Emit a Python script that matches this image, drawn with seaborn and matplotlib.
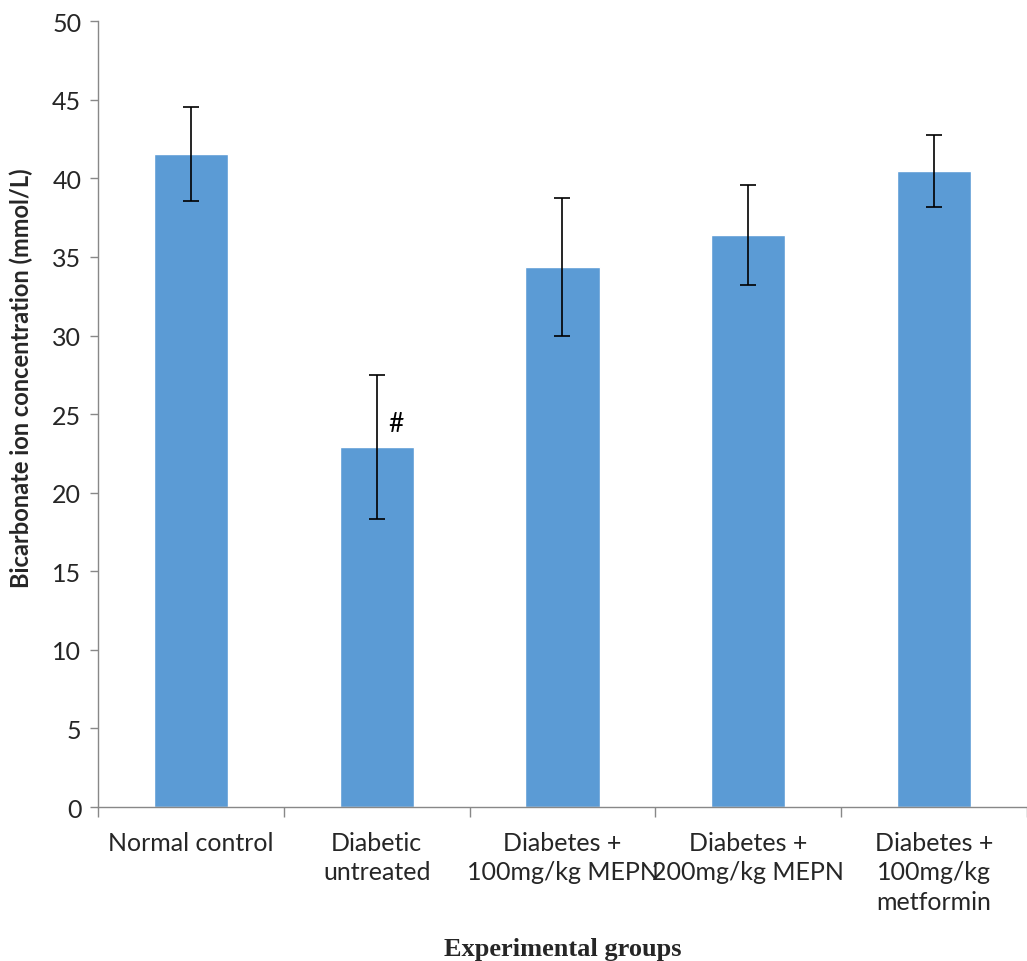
import seaborn as sns
import matplotlib.pyplot as plt
import pandas as pd

# values
groups = ["Normal control", "Diabetic\nuntreated", "Diabetes +\n100mg/kg MEPN",
          "Diabetes +\n200mg/kg MEPN", "Diabetes +\n100mg/kg\nmetformin"]
means = [41.55, 22.9, 34.35, 36.4, 40.45]
errors = [3.0, 4.6, 4.4, 3.2, 2.3]

df = pd.DataFrame({"group": groups, "value": means})

sns.set_style("white")
plt.rcParams["font.family"] = ["Lato", "DejaVu Sans"]

fig = plt.figure(figsize=(10.27, 9.62), dpi=100)
ax = fig.add_axes([0.0954, 0.16, 0.9046, 0.817])

sns.barplot(data=df, x="group", y="value", color="#5B9BD5", width=0.4,
            saturation=1, ax=ax)
ax.errorbar(range(len(groups)), means, yerr=errors, fmt="none", ecolor="black",
            elinewidth=1.2, capsize=6, capthick=1.2)

ax.text(1.105, 24.4, "#", ha="center", va="center", fontsize=19, color="black")

ax.set_ylim(0, 50)
ax.set_xlim(-0.5, 4.455)
ax.set_yticks(range(0, 51, 5))
ax.tick_params(axis="y", labelsize=18, length=6, color="#888888", width=1,
               left=True, pad=6)
ax.set_xticks([i - 0.5 for i in range(6)], minor=True)
ax.tick_params(axis="x", which="minor", length=7, color="#888888", width=1, bottom=True)
ax.tick_params(axis="x", which="major", length=0, labelsize=18, pad=17)
for lbl in ax.get_xticklabels():
    lbl.set_linespacing(1.35)

for s in ["top", "right"]:
    ax.spines[s].set_visible(False)
for s in ["left", "bottom"]:
    ax.spines[s].set_color("#888888")
    ax.spines[s].set_linewidth(1)

ax.set_ylabel("Bicarbonate ion concentration (mmol/L)", fontsize=17,
              fontweight="bold")
ax.yaxis.set_label_coords(-0.07, 0.547)
ax.set_xlabel("Experimental groups", fontsize=19, fontweight="bold",
              family="Liberation Serif", labelpad=17)

fig.savefig("out.png", dpi=100)
